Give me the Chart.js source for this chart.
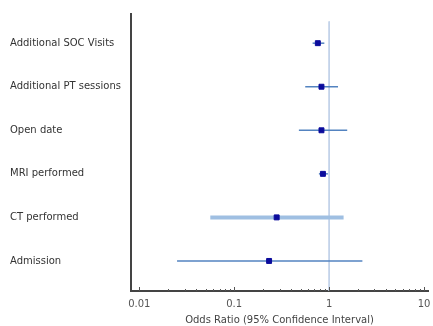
<!DOCTYPE html>
<html>
<head>
<meta charset="utf-8">
<script src="https://cdn.jsdelivr.net/npm/chart.js@4.4.1/dist/chart.umd.min.js"></script>
<style>
  html, body { margin: 0; padding: 0; background: #fff; }
  #wrap { width: 433px; height: 326px; position: relative; }
</style>
</head>
<body>
<div id="wrap"><canvas id="forest"></canvas></div>
<script>
// Forest plot data (odds ratios with 95% CI)
const categories = ['Additional SOC Visits', 'Additional PT sessions', 'Open date', 'MRI performed', 'CT performed', 'Admission'];
const oddsRatio = [0.76, 0.83, 0.83, 0.86, 0.28, 0.233];
const ciLow = [0.67, 0.56, 0.48, 0.78, 0.056, 0.025];
const ciHigh = [0.89, 1.24, 1.55, 0.97, 1.42, 2.24];
const majorTicks = [0.01, 0.1, 1, 10];
const minorTicks = [0.02, 0.03, 0.04, 0.05, 0.06, 0.07, 0.08, 0.09,
                    0.2, 0.3, 0.4, 0.5, 0.6, 0.7, 0.8, 0.9,
                    2, 3, 4, 5, 6, 7, 8, 9];
const refValue = 1;

const FONT = '"DejaVu Sans", Arial, sans-serif';

// one line dataset per CI bar
const ciSets = categories.map((c, i) => ({
    type: 'scatter',
    data: [{ x: ciLow[i], y: i }, { x: ciHigh[i], y: i }],
    showLine: true,
    borderColor: i === 4 ? '#9fbfe2' : '#5383c0',
    borderWidth: i === 4 ? 4 : 1.5,
    pointRadius: 0,
    order: 2
}));

const refLine = {
    type: 'scatter',
    data: [{ x: refValue, y: -0.5 }, { x: refValue, y: 5.69 }],
    showLine: true,
    borderColor: '#bfd0e8',
    borderWidth: 1,
    pointRadius: 0,
    order: 3
};

const pointSet = {
    type: 'scatter',
    data: oddsRatio.map((v, i) => ({ x: v, y: i })),
    pointStyle: 'rect',
    pointRadius: 3.5,
    backgroundColor: '#0b0b9c',
    borderColor: '#0b0b9c',
    borderWidth: 1,
    order: 1
};

// tick marks drawn inward (upwards) from the x axis
const innerTicks = {
    id: 'innerTicks',
    afterDraw(chart) {
        const x = chart.scales.x;
        const ctx = chart.ctx;
        const y0 = x.top;
        ctx.save();
        ctx.strokeStyle = '#555';
        ctx.lineWidth = 1;
        const mark = (v, len) => {
            const px = Math.round(x.getPixelForValue(v)) + 0.5;
            ctx.beginPath();
            ctx.moveTo(px, y0);
            ctx.lineTo(px, y0 - len);
            ctx.stroke();
        };
        majorTicks.forEach(v => mark(v, 4));
        minorTicks.forEach(v => mark(v, 2));
        ctx.restore();
    }
};

new Chart(document.getElementById('forest'), {
    type: 'scatter',
    data: { datasets: [refLine, ...ciSets, pointSet] },
    options: {
        responsive: true,
        maintainAspectRatio: false,
        animation: false,
        layout: { padding: { top: 14, right: -1, left: 10, bottom: 0 } },
        plugins: { legend: { display: false }, tooltip: { enabled: false } },
        scales: {
            x: {
                type: 'logarithmic',
                min: 0.00818,
                max: 11.0,
                afterBuildTicks: s => { s.ticks = majorTicks.map(v => ({ value: v })); },
                afterFit: s => { s.height = 35; s.paddingRight = 0; },
                grid: { display: false, drawTicks: false },
                border: { display: true, color: '#444', width: 2 },
                ticks: {
                    padding: 7,
                    color: '#555',
                    font: { family: FONT, size: 10 },
                    maxRotation: 0,
                    callback: v => String(v)
                },
                title: {
                    display: true,
                    text: 'Odds Ratio (95% Confidence Interval)',
                    color: '#444',
                    font: { family: FONT, size: 10 },
                    padding: { top: 0, bottom: 0 }
                }
            },
            y: {
                type: 'linear',
                reverse: true,
                min: -0.67,
                max: 5.69,
                afterBuildTicks: s => { s.ticks = categories.map((c, i) => ({ value: i })); },
                afterFit: s => { s.width = 121; },
                grid: { display: false, drawTicks: false },
                border: { display: true, color: '#444', width: 2 },
                ticks: {
                    crossAlign: 'far',
                    padding: 0,
                    color: '#333',
                    font: { family: FONT, size: 10 },
                    callback: v => categories[v] || ''
                }
            }
        }
    },
    plugins: [innerTicks]
});
</script>
</body>
</html>
